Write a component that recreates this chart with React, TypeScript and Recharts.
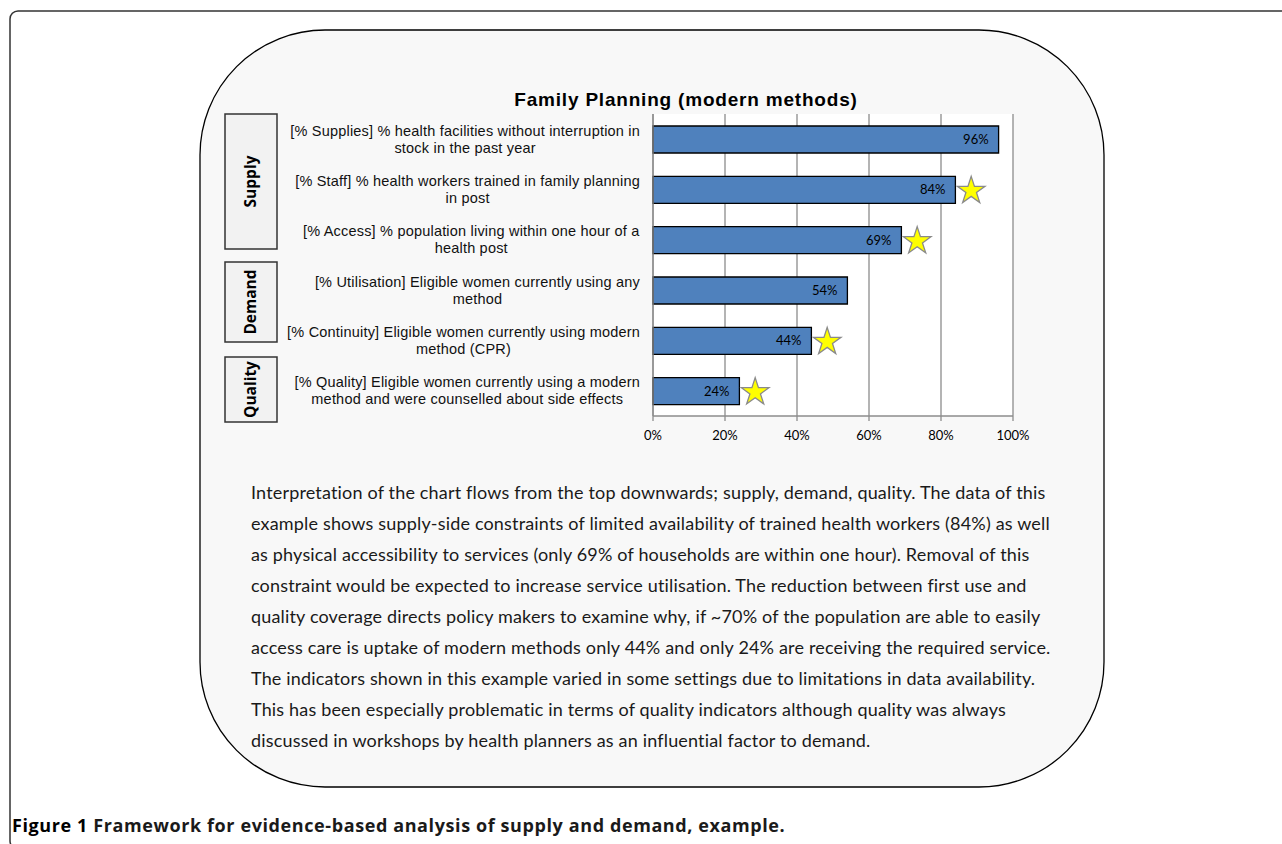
import React from "react";
import { Bar, BarChart, CartesianGrid, LabelList, XAxis, YAxis } from "recharts";

// indicator labels, wrapped the way they are printed beside each bar
const indicatorLines: string[][] = [
  ["[% Supplies] % health facilities without interruption in", "stock in the past year"],
  ["[% Staff] % health workers trained in family planning", "in post"],
  ["[% Access] % population living within one hour of a", "health post"],
  ["[% Utilisation] Eligible women currently using any", "method"],
  ["[% Continuity] Eligible women currently using modern", "method (CPR)"],
  ["[% Quality] Eligible women currently using a modern", "method and were counselled about side effects"],
];
const coverage = [96, 84, 69, 54, 44, 24];
const flagged = [false, true, true, false, true, true];
const percentTicks = [0, 20, 40, 60, 80, 100];
const boundaryTicks = [0, 1, 2, 3, 4, 5, 6];

const groups = [
  { name: "Supply", top: 114, bottom: 249 },
  { name: "Demand", top: 262, bottom: 342 },
  { name: "Quality", top: 357, bottom: 422 },
];

const interpretation = [
  "Interpretation of the chart flows from the top downwards; supply, demand, quality. The data of this",
  "example shows supply-side constraints of limited availability of trained health workers (84%) as well",
  "as physical accessibility to services (only 69% of households are within one hour). Removal of this",
  "constraint would be expected to increase service utilisation. The reduction between first use and",
  "quality coverage directs policy makers to examine why, if ~70% of the population are able to easily",
  "access care is uptake of modern methods only 44% and only 24% are receiving the required service.",
  "The indicators shown in this example varied in some settings due to limitations in data availability.",
  "This has been especially problematic in terms of quality indicators although quality was always",
  "discussed in workshops by health planners as an influential factor to demand.",
];

const data = indicatorLines.map((lines, i) => ({
  name: lines.join(" "),
  value: coverage[i],
  star: flagged[i],
}));

const SANS = "Arial, 'Liberation Sans', Helvetica, sans-serif";
const LABEL_SIZE = 14.5;
const LABEL_SPACING = 0.2;
let measureCtx: CanvasRenderingContext2D | null = null;
function textWidth(s: string) {
  if (!measureCtx) measureCtx = document.createElement("canvas").getContext("2d");
  if (!measureCtx) return s.length * 6.5;
  measureCtx.font = `${LABEL_SIZE}px ${SANS}`;
  return measureCtx.measureText(s).width + s.length * LABEL_SPACING;
}

function IndicatorTick(props: any) {
  const { x, y, payload } = props;
  const row = data.findIndex((d) => d.name === payload.value);
  const lines = indicatorLines[row] || [payload.value];
  const w = Math.max(...lines.map(textWidth));
  const cx = x - w / 2;
  const start = y - ((lines.length - 1) * 17) / 2;
  return (
    <g>
      {lines.map((l, i) => (
        <text key={i} x={cx} y={start + i * 17} dy="0.35em" textAnchor="middle"
          style={{ fontFamily: SANS, fontSize: LABEL_SIZE, letterSpacing: LABEL_SPACING }} fill="#111">
          {l}
        </text>
      ))}
    </g>
  );
}

function starPath(cx: number, cy: number, r: number) {
  const inner = r * 0.382;
  const pts: string[] = [];
  for (let i = 0; i < 10; i++) {
    const rad = i % 2 === 0 ? r : inner;
    const a = -Math.PI / 2 + (i * Math.PI) / 5;
    pts.push(`${(cx + rad * Math.cos(a)).toFixed(2)},${(cy + rad * Math.sin(a)).toFixed(2)}`);
  }
  return `M${pts.join("L")}Z`;
}

function StarMark(props: any) {
  const vb = props.viewBox || props;
  if (!props.value) return null;
  const { x, y, width, height } = vb;
  const r = 14.5;
  return (
    <path d={starPath(x + width + 2 + r * 0.951, y + height / 2 + 1, r)}
      fill="#ffff00" stroke="#8a8a8a" strokeWidth={1.3} />
  );
}

export default function App() {
  return (
    <div style={{ position: "absolute", left: 0, top: 0, width: 1282, height: 844, background: "#fff", overflow: "hidden" }}>
      <svg width={1282} height={844} style={{ position: "absolute", left: 0, top: 0 }}>
        <rect x={10} y={11} width={1300} height={838} rx={8} fill="#fff" stroke="#333" strokeWidth={1.5} />
        <rect x={200} y={30} width={904} height={757} rx={125} fill="#f8f8f8" stroke="#000" strokeWidth={1.3} />
        <text x={686} y={106} textAnchor="middle"
          style={{ fontFamily: SANS, fontWeight: "bold", fontSize: 19, letterSpacing: 0.8 }} fill="#000">
          Family Planning (modern methods)
        </text>
        {groups.map((g) => (
          <g key={g.name}>
            <rect x={225} y={g.top} width={52} height={g.bottom - g.top} fill="#f2f2f2" stroke="#333" strokeWidth={1.5} />
            <text transform={`translate(256, ${(g.top + g.bottom) / 2}) rotate(-90)`} textAnchor="middle"
              style={{ fontFamily: "'Open Sans'", fontWeight: "bold", fontSize: 15.5 }} fill="#000">
              {g.name}
            </text>
          </g>
        ))}
        {interpretation.map((l, i) => (
          <text key={i} x={251} y={499 + i * 31} style={{ fontFamily: "Lato", fontSize: 18, letterSpacing: 0.17 }} fill="#1a1a1a">
            {l}
          </text>
        ))}
        <text x={12} y={832} style={{ fontFamily: "'Open Sans'", fontWeight: "bold", fontSize: 18, letterSpacing: 0.6 }} fill="#1a1a1a">
          <tspan fill="#000">Figure 1</tspan> Framework for evidence-based analysis of supply and demand, example.
        </text>
      </svg>
      <div style={{ position: "absolute", left: 220, top: 80 }}>
        <BarChart width={830} height={380} data={data} layout="vertical"
          margin={{ top: 34, right: 37, bottom: 14, left: 0 }}>
          <CartesianGrid horizontal={false} stroke="#8c8c8c" strokeWidth={1.3} fill="#ffffff" />
          <XAxis type="number" domain={[0, 100]} ticks={percentTicks} tickFormatter={(v) => `${v}%`}
            height={30} tickSize={5} tickMargin={10} axisLine={{ stroke: "#8c8c8c", strokeWidth: 1.3 }}
            tickLine={{ stroke: "#8c8c8c", strokeWidth: 1.3 }}
            tick={{ fontFamily: "Lato", fontSize: 13, fill: "#000" }} />
          <YAxis yAxisId={0} type="category" dataKey="name" width={433} tickSize={5} tickMargin={8}
            axisLine={{ stroke: "#8c8c8c", strokeWidth: 1.3 }} tickLine={false} tick={IndicatorTick} interval={0} />
          <YAxis yAxisId="bounds" type="number" domain={[0, 6]} ticks={boundaryTicks} allowDataOverflow
            width={0} tick={false} tickSize={5} axisLine={false} tickLine={{ stroke: "#8c8c8c", strokeWidth: 1.3 }} />
          <Bar yAxisId={0} dataKey="value" fill="#4f81bd" stroke="#000" strokeWidth={1.3} barSize={27} isAnimationActive={false}>
            <LabelList dataKey="value" position="insideRight" offset={10} formatter={(v: any) => `${v}%`}
              style={{ fontFamily: "Lato", fontSize: 13, fill: "#000" }} />
            <LabelList dataKey="star" content={StarMark} />
          </Bar>
        </BarChart>
      </div>
    </div>
  );
}
